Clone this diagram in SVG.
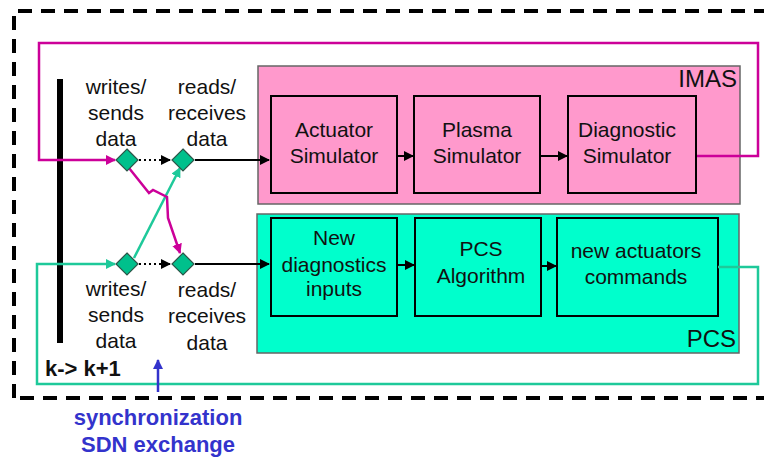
<svg xmlns="http://www.w3.org/2000/svg" width="764" height="459" viewBox="0 0 764 459">
<defs>
<style>
.t{font-family:"Liberation Sans",Arial,sans-serif;font-size:21px;fill:#111;text-anchor:middle}
.tl{font-family:"Liberation Sans",Arial,sans-serif;font-size:24px;fill:#111;text-anchor:end}
.box{stroke:#000;stroke-width:2}
.imas{fill:#ff99cc}
.pcs{fill:#00ffcc}
.dia{fill:#00c08c;stroke:#2d5548;stroke-width:1.2}
.blk{stroke:#000;stroke-width:2;fill:none}
.mag{stroke:#cc0099;stroke-width:2.5;fill:none}
.grn{stroke:#1ec99a;stroke-width:2.5;fill:none}
.blue{font-family:"Liberation Sans",Arial,sans-serif;font-size:22px;font-weight:bold;fill:#3333cc;text-anchor:middle}
</style>
<marker id="ab" viewBox="0 0 10 10" refX="9" refY="5" markerWidth="5" markerHeight="5" orient="auto"><path d="M0,0L10,5L0,10z" fill="#000"/></marker>
<marker id="am" viewBox="0 0 10 10" refX="9" refY="5" markerWidth="4" markerHeight="4" orient="auto"><path d="M0,0L10,5L0,10z" fill="#cc0099"/></marker>
<marker id="ag" viewBox="0 0 10 10" refX="9" refY="5" markerWidth="4" markerHeight="4" orient="auto"><path d="M0,0L10,5L0,10z" fill="#1ec99a"/></marker>
<marker id="abl" viewBox="0 0 10 10" refX="9" refY="5" markerWidth="4" markerHeight="4" orient="auto"><path d="M0,0L10,5L0,10z" fill="#3333cc"/></marker>
</defs>
<rect width="764" height="459" fill="#fff"/>
<path d="M14,398V11H770" fill="none" stroke="#000" stroke-width="4" stroke-dasharray="14,9"/>
<path d="M770,398H14" fill="none" stroke="#000" stroke-width="4" stroke-dasharray="14,9"/>
<g id="imas">
<rect x="258" y="66" width="482" height="138" class="imas" stroke="#666" stroke-width="1.5"/>
<text class="tl" x="737" y="87">IMAS</text>
</g>
<g id="pcs">
<rect x="257" y="214" width="482" height="139" class="pcs" stroke="#666" stroke-width="1.5"/>
<text class="tl" x="736" y="347">PCS</text>
</g>
<g id="actuator-sim"><rect x="271" y="96" width="126" height="97" class="box imas"/><text class="t" x="334" y="137">Actuator</text><text class="t" x="334" y="163">Simulator</text></g>
<g id="plasma-sim"><rect x="414" y="96" width="126" height="97" class="box imas"/><text class="t" x="477" y="137">Plasma</text><text class="t" x="477" y="163">Simulator</text></g>
<g id="diagnostic-sim"><rect x="568" y="96" width="128" height="97" class="box imas"/><text class="t" x="627" y="137">Diagnostic</text><text class="t" x="627" y="163">Simulator</text></g>
<g id="new-diag"><rect x="271" y="218" width="126" height="98" class="box pcs"/><text class="t" x="334" y="245">New</text><text class="t" x="334" y="272">diagnostics</text><text class="t" x="334" y="296">inputs</text></g>
<g id="pcs-alg"><rect x="415" y="218" width="126" height="98" class="box pcs"/><text class="t" x="481" y="256">PCS</text><text class="t" x="481" y="283">Algorithm</text></g>
<g id="new-act"><rect x="557" y="218" width="161" height="98" class="box pcs"/><text class="t" x="636" y="258">new actuators</text><text class="t" x="636" y="284">commands</text></g>
<g id="bar"><rect x="57" y="79" width="6" height="264" fill="#000"/></g>
<g id="labels">
<text class="t" x="116" y="94">writes/</text><text class="t" x="116" y="120">sends</text><text class="t" x="116" y="146">data</text>
<text class="t" x="207" y="94">reads/</text><text class="t" x="207" y="120">receives</text><text class="t" x="207" y="146">data</text>
<text class="t" x="116" y="296">writes/</text><text class="t" x="116" y="322">sends</text><text class="t" x="116" y="348">data</text>
<text class="t" x="207" y="297">reads/</text><text class="t" x="207" y="323">receives</text><text class="t" x="207" y="350">data</text>
<text x="45" y="376" font-family="Liberation Sans,Arial,sans-serif" font-size="22" font-weight="bold" fill="#111">k-&gt; k+1</text>
</g>
<g id="connectors">
<path class="mag" d="M697,156H758V43H39V160H115" marker-end="url(#am)"/>
<path class="grn" d="M718,267H758V384H37V264H115" marker-end="url(#ag)"/>
<path class="blk" d="M139,160H170" stroke-dasharray="2,3" marker-end="url(#ab)"/>
<path class="blk" d="M139,264H170" stroke-dasharray="2,3" marker-end="url(#ab)"/>
<path class="blk" d="M195,160H269" marker-end="url(#ab)"/>
<path class="blk" d="M195,264H269" marker-end="url(#ab)"/>
<path class="blk" d="M397,156H413" marker-end="url(#ab)"/>
<path class="blk" d="M540,156H567" marker-end="url(#ab)"/>
<path class="blk" d="M397,265H414" marker-end="url(#ab)"/>
<path class="blk" d="M541,266H556" marker-end="url(#ab)"/>
<path class="grn" d="M134,258L180,168" marker-end="url(#ag)"/>
<path class="mag" d="M129,168L149,193L153,190L167,197L168,218L180,253" marker-end="url(#am)"/>
<path d="M158,392V360" stroke="#3333cc" stroke-width="2.5" fill="none" marker-end="url(#abl)"/>
</g>
<g id="diamonds">
<path class="dia" d="M127,149L138,160L127,171L116,160z"/>
<path class="dia" d="M183,149L194,160L183,171L172,160z"/>
<path class="dia" d="M127,253L138,264L127,275L116,264z"/>
<path class="dia" d="M183,253L194,264L183,275L172,264z"/>
</g>
<g id="sync"><text class="blue" x="158" y="425">synchronization</text><text class="blue" x="158" y="452">SDN exchange</text></g>
</svg>
